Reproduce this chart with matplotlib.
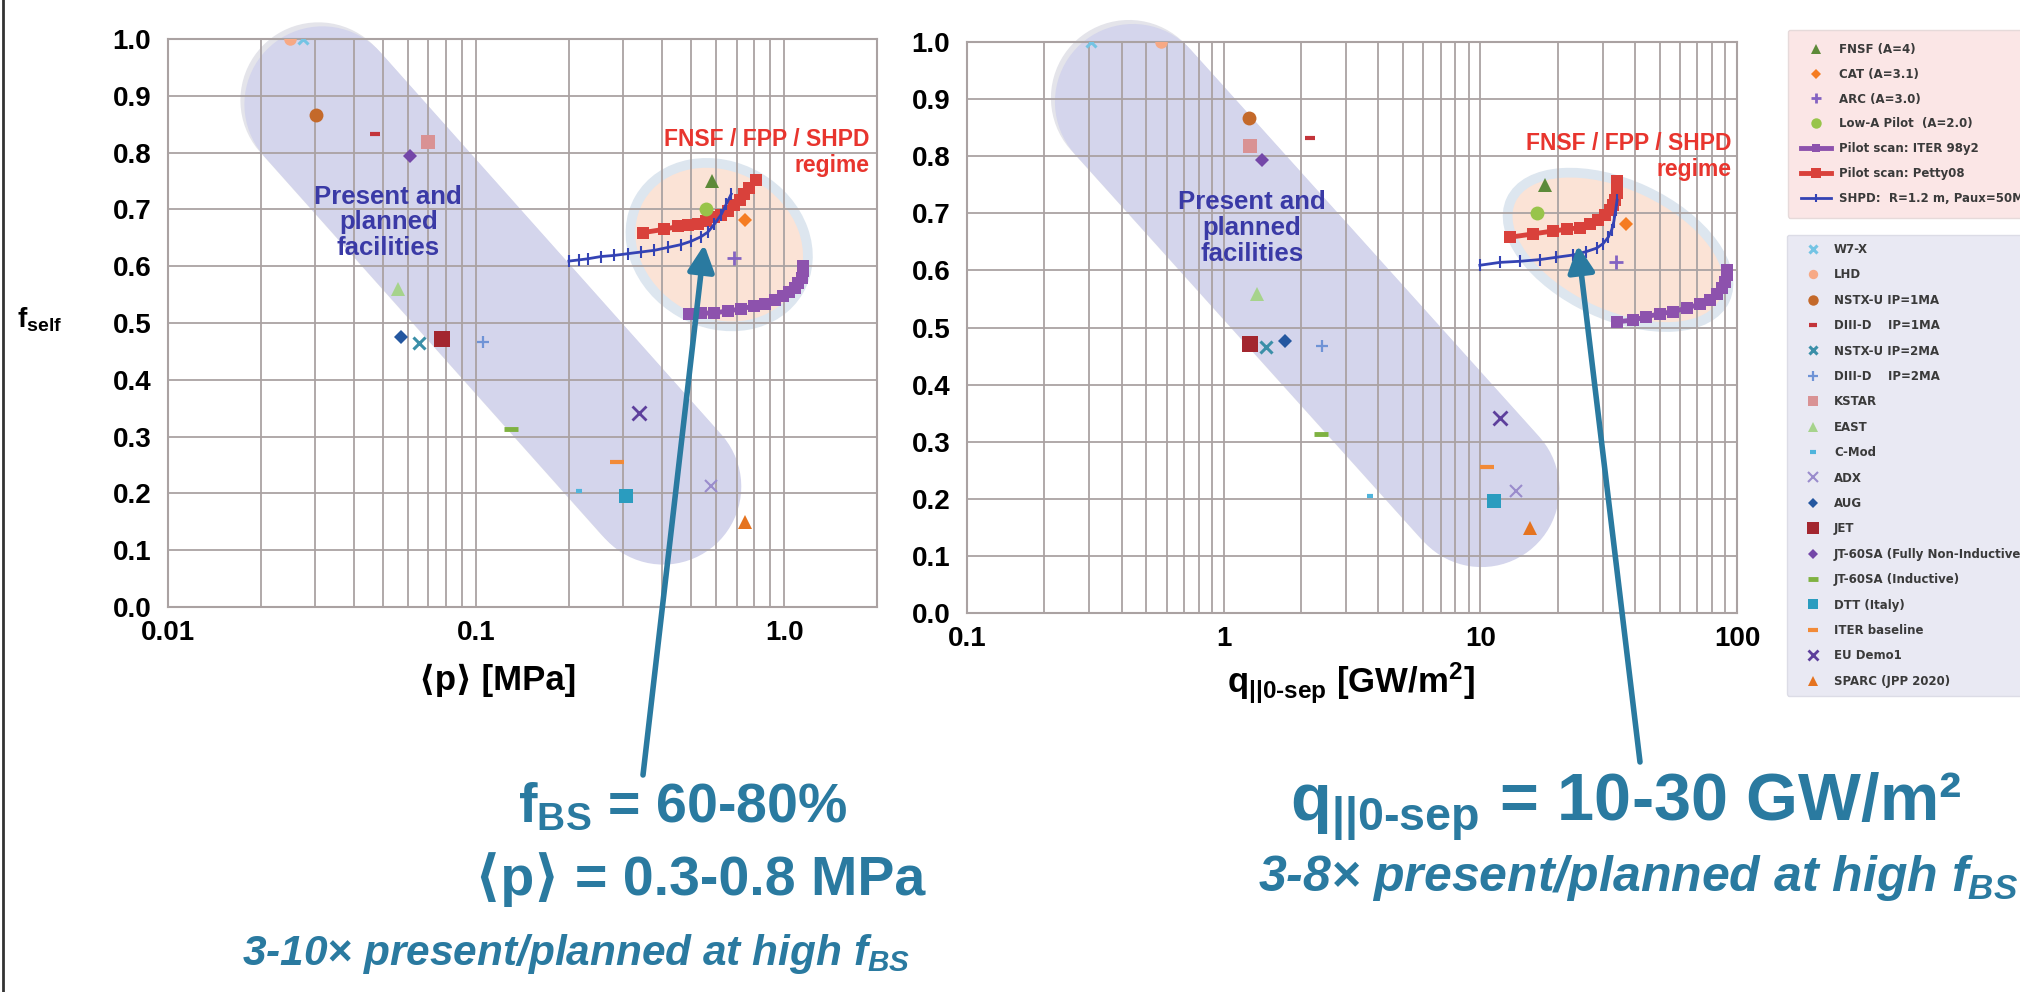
import numpy as np
import matplotlib.pyplot as plt
import matplotlib.transforms as mtransforms
from matplotlib.patches import Ellipse, Polygon
from matplotlib.lines import Line2D

W, H = 2020, 992

plt.rcParams['font.family'] = ['Liberation Sans', 'DejaVu Sans']
plt.rcParams['font.weight'] = 'bold'
plt.rcParams['axes.labelweight'] = 'bold'
plt.rcParams['mathtext.fontset'] = 'custom'
plt.rcParams['mathtext.rm'] = 'Liberation Sans:bold'
plt.rcParams['mathtext.bf'] = 'Liberation Sans:bold'
plt.rcParams['mathtext.it'] = 'Liberation Sans:bold:italic'

# ---- present / planned devices: <p> [MPa], q_||0-sep [GW/m2], f_self
dev_names = ['W7-X', 'LHD', 'NSTX-U IP=1MA', 'DIII-D    IP=1MA', 'NSTX-U IP=2MA',
             'DIII-D    IP=2MA', 'KSTAR', 'EAST', 'C-Mod', 'ADX', 'AUG', 'JET',
             'JT-60SA (Fully Non-Inductive)', 'JT-60SA (Inductive)', 'DTT (Italy)',
             'ITER baseline', 'EU Demo1', 'SPARC (JPP 2020)']
dev_p = [0.0275, 0.0249, 0.0302, 0.0471, 0.0652, 0.105, 0.070, 0.0558, 0.215, 0.578,
         0.0571, 0.0776, 0.061, 0.130, 0.307, 0.286, 0.339, 0.744]
dev_q = [0.303, 0.570, 1.26, 2.16, 1.46, 2.41, 1.27, 1.35, 3.70, 13.8,
         1.73, 1.27, 1.41, 2.39, 11.3, 10.6, 11.9, 15.6]
dev_f = [1.0, 1.0, 0.867, 0.832, 0.465, 0.467, 0.818, 0.559, 0.205, 0.213,
         0.476, 0.471, 0.794, 0.314, 0.196, 0.255, 0.341, 0.149]

# ---- pilot plant designs
pilot_names = ['FNSF (A=4)', 'CAT (A=3.1)', 'ARC (A=3.0)', 'Low-A Pilot  (A=2.0)']
pilot_p = [0.583, 0.748, 0.689, 0.557]
pilot_q = [17.9, 36.8, 33.7, 16.6]
pilot_f = [0.750, 0.681, 0.614, 0.700]

# ---- pilot scans (left panel: vs <p>)
iter98_p = [0.492, 0.537, 0.593, 0.656, 0.725, 0.800, 0.863, 0.930, 0.991, 1.04,
            1.08, 1.11, 1.14, 1.15, 1.15]
iter98_fp = [0.515, 0.517, 0.518, 0.521, 0.525, 0.530, 0.534, 0.540, 0.547, 0.554,
             0.562, 0.571, 0.580, 0.591, 0.600]
petty_p = [0.347, 0.408, 0.451, 0.486, 0.524, 0.558, 0.593, 0.624, 0.656, 0.689,
           0.716, 0.743, 0.771, 0.811]
petty_fp = [0.659, 0.665, 0.670, 0.672, 0.675, 0.680, 0.686, 0.691, 0.698, 0.707,
            0.717, 0.727, 0.738, 0.752]
shpd_p = [0.200, 0.215, 0.230, 0.254, 0.281, 0.310, 0.343, 0.379, 0.419, 0.462,
          0.499, 0.537, 0.565, 0.593, 0.624, 0.648, 0.673]
shpd_fp = [0.609, 0.611, 0.613, 0.617, 0.619, 0.622, 0.625, 0.628, 0.633, 0.638,
           0.644, 0.652, 0.660, 0.674, 0.691, 0.709, 0.727]

# ---- pilot scans (right panel: vs q_||0-sep)
iter98_q = [34.0, 39.4, 44.4, 50.1, 56.5, 63.7, 71.7, 78.4, 83.3, 87.1, 89.8, 91.1, 91.6]
iter98_fq = [0.510, 0.513, 0.519, 0.524, 0.528, 0.534, 0.541, 0.549, 0.559, 0.569,
             0.580, 0.592, 0.601]
petty_q = [13.0, 16.1, 19.2, 21.7, 24.4, 26.7, 28.8, 30.6, 32.0, 32.9, 33.4, 34.0, 34.0, 34.0]
petty_fq = [0.658, 0.664, 0.669, 0.672, 0.675, 0.681, 0.688, 0.697, 0.706, 0.715,
            0.723, 0.735, 0.747, 0.757]
shpd_q = [9.96, 11.9, 14.3, 17.1, 19.8, 23.0, 25.9, 28.4, 30.1, 31.5, 32.5, 33.1, 33.7, 34.1]
shpd_fq = [0.609, 0.614, 0.616, 0.619, 0.623, 0.627, 0.633, 0.639, 0.647, 0.658,
           0.671, 0.685, 0.706, 0.723]

scan_names = ['Pilot scan: ITER 98y2', 'Pilot scan: Petty08', 'SHPD:  R=1.2 m, Paux=50MW']

# ---- styles
dev_styles = [
    dict(marker='x', color='#74c4e4', ms=7, mew=2.2),
    dict(marker='o', color='#f7a985', ms=9, mew=0),
    dict(marker='o', color='#c4692a', ms=10, mew=0),
    dict(marker='_', color='#c3343a', ms=7, mew=3),
    dict(marker='x', color='#3b8fa8', ms=8, mew=2.2),
    dict(marker='+', color='#6f93d6', ms=9, mew=1.6),
    dict(marker='s', color='#d99294', ms=10, mew=0),
    dict(marker='^', color='#a6d38c', ms=10, mew=0),
    dict(marker='_', color='#4fb4dc', ms=5, mew=3),
    dict(marker='x', color='#9a8ccc', ms=9, mew=1.5),
    dict(marker='D', color='#2457a0', ms=7, mew=0),
    dict(marker='s', color='#a3262f', ms=11, mew=0),
    dict(marker='D', color='#7447a8', ms=7, mew=0),
    dict(marker='_', color='#7fb241', ms=10, mew=3.5),
    dict(marker='s', color='#2a9cbf', ms=10, mew=0),
    dict(marker='_', color='#f28a37', ms=10, mew=3),
    dict(marker='x', color='#5d3f9c', ms=10, mew=2),
    dict(marker='^', color='#e5731f', ms=10, mew=0),
]
pilot_styles = [
    dict(marker='^', color='#5d8a39', ms=10, mew=0),
    dict(marker='D', color='#f57c22', ms=7, mew=0),
    dict(marker='+', color='#8462c2', ms=10, mew=2),
    dict(marker='o', color='#98c44a', ms=10, mew=0),
]
scan_styles = [
    dict(color='#8d52ad', lw=3.5, marker='s', ms=8, mew=0),
    dict(color='#d9413b', lw=3.5, marker='s', ms=9, mew=0),
    dict(color='#3443b4', lw=2, marker='|', ms=8, mew=1.5),
]

grid_c = '#aaa2a2'
teal = '#2a7aa0'
band_c = '#d4d5ec'
peach_c = '#fbe3d6'

fig = plt.figure(figsize=(W / 100, H / 100), dpi=100)
axL = fig.add_axes([168 / W, 1 - 607 / H, (877 - 168) / W, (607 - 39) / H])
axR = fig.add_axes([967 / W, 1 - 613 / H, (1737 - 967) / W, (613 - 42) / H])

for ax in (axL, axR):
    ax.set_xscale('log')
    ax.set_ylim(0, 1.0)
    ax.set_yticks(np.arange(0, 1.01, 0.1))
    ax.set_yticklabels([f'{v:.1f}' for v in np.arange(0, 1.01, 0.1)])
    ax.grid(True, which='both', axis='x', color=grid_c, lw=1.3)
    ax.grid(True, which='major', axis='y', color=grid_c, lw=1.3)
    ax.set_axisbelow(True)
    ax.tick_params(which='both', length=0, labelsize=20, pad=9)
    ax.tick_params(axis='y', pad=12)
    for s in ax.spines.values():
        s.set_color(grid_c)
        s.set_linewidth(1.5)

axL.set_xlim(0.01, 2.0)
axL.set_xticks([0.01, 0.1, 1.0])
axL.set_xticklabels(['0.01', '0.1', '1.0'])
axR.set_xlim(0.1, 100)
axR.set_xticks([0.1, 1, 10, 100])
axR.set_xticklabels(['0.1', '1', '10', '100'])
for ax in (axL, axR):
    ax.xaxis.set_minor_formatter(plt.NullFormatter())

IDT = mtransforms.IdentityTransform()


def capsule(ax, a, b, r, n=40):
    p1 = ax.transData.transform(a)
    p2 = ax.transData.transform(b)
    d = p2 - p1
    phi = np.arctan2(d[1], d[0])
    t2 = np.linspace(phi + np.pi / 2, phi - np.pi / 2, n)
    t1 = np.linspace(phi - np.pi / 2, phi - 3 * np.pi / 2, n)
    pts = np.vstack([np.c_[p2[0] + r * np.cos(t2), p2[1] + r * np.sin(t2)],
                     np.c_[p1[0] + r * np.cos(t1), p1[1] + r * np.sin(t1)]])
    return pts


def add_band(ax, a, b, r):
    pts = capsule(ax, a, b, r)
    ax.add_patch(Polygon(pts + np.array([-4, 4]), closed=True, transform=IDT,
                         facecolor='#e4e4ea', edgecolor='none', zorder=0.1, clip_on=False))
    ax.add_patch(Polygon(pts, closed=True, transform=IDT, facecolor=band_c,
                         edgecolor='none', zorder=0.2, clip_on=False))


def add_blob(ax, c, a, b, ang):
    pc = ax.transData.transform(c)
    ax.add_patch(Ellipse(pc, 2 * a, 2 * b, angle=ang, transform=IDT,
                         facecolor=peach_c, edgecolor='#dde6ef', lw=7, zorder=0.3,
                         clip_on=False))


add_band(axL, (0.0317, 0.885), (0.405, 0.212), 78)
add_band(axR, (0.443, 0.895), (10.1, 0.217), 78)
add_blob(axL, (0.615, 0.638), 92, 78, -30)
add_blob(axR, (34.4, 0.636), 118, 65, -25)

handles_dev = []
handles_pilot = []
handles_scan = []
for ax, xs_dev, xs_pilot, scans in (
        (axL, dev_p, pilot_p, [(iter98_p, iter98_fp), (petty_p, petty_fp), (shpd_p, shpd_fp)]),
        (axR, dev_q, pilot_q, [(iter98_q, iter98_fq), (petty_q, petty_fq), (shpd_q, shpd_fq)])):
    hs = []
    for (x, y), st in zip(scans, scan_styles):
        h, = ax.plot(x, y, color=st['color'], lw=st['lw'], marker=st['marker'],
                     ms=st['ms'], mew=st['mew'], zorder=3)
        hs.append(h)
    hd = []
    for x, y, st in zip(xs_dev, dev_f, dev_styles):
        h, = ax.plot([x], [y], ls='none', marker=st['marker'], color=st['color'],
                     ms=st['ms'], mew=st['mew'], zorder=4)
        hd.append(h)
    hp = []
    for x, y, st in zip(xs_pilot, pilot_f, pilot_styles):
        h, = ax.plot([x], [y], ls='none', marker=st['marker'], color=st['color'],
                     ms=st['ms'], mew=st['mew'], zorder=4)
        hp.append(h)
    if ax is axL:
        handles_dev, handles_pilot, handles_scan = hd, hp, hs

# region labels
axL.text(0.0519, 0.677, 'Present and\nplanned\nfacilities', ha='center', va='center',
         fontsize=18.5, color='#3a3aa6', linespacing=1.1, zorder=5)
axR.text(1.29, 0.674, 'Present and\nplanned\nfacilities', ha='center', va='center',
         fontsize=18.5, color='#3a3aa6', linespacing=1.1, zorder=5)
axL.text(1.89, 0.80, 'FNSF / FPP / SHPD\nregime', ha='right', va='center',
         fontsize=16.5, color='#e8352e', linespacing=1.15, zorder=5)
axR.text(95.5, 0.80, 'FNSF / FPP / SHPD\nregime', ha='right', va='center',
         fontsize=16.5, color='#e8352e', linespacing=1.15, zorder=5)

# axis labels
axL.set_xlabel('⟨p⟩ [MPa]', fontsize=25, fontweight='bold')
axL.xaxis.set_label_coords(0.465, -0.1)
axR.set_xlabel(r'$\mathrm{q_{||0\text{-}sep}}$ [GW/m$^\mathrm{2}$]', fontsize=25,
               fontweight='bold')
axR.xaxis.set_label_coords(0.499, -0.083)
fig.text(40 / W, 1 - 320 / H, r'$\mathrm{f_{self}}$', fontsize=20, ha='center', va='center')

# arrows
axL.annotate('', xy=(0.55, 0.638), xycoords='data', xytext=(643 / W, 1 - 775 / H),
             textcoords='figure fraction', annotation_clip=False,
             arrowprops=dict(arrowstyle='-|>,head_length=0.8,head_width=0.4',
                             color=teal, lw=4, mutation_scale=20, shrinkA=0, shrinkB=0),
             zorder=6)
axR.annotate('', xy=(24.0, 0.644), xycoords='data', xytext=(1640 / W, 1 - 762 / H),
             textcoords='figure fraction', annotation_clip=False,
             arrowprops=dict(arrowstyle='-|>,head_length=0.8,head_width=0.4',
                             color=teal, lw=4, mutation_scale=20, shrinkA=0, shrinkB=0),
             zorder=6)

# bottom statements
fig.text(683 / W, 1 - 808 / H, r'$\mathrm{f_{BS}}$ = 60-80%', ha='center', va='center',
         fontsize=40, color=teal)
fig.text(700 / W, 1 - 880 / H, '⟨p⟩ = 0.3-0.8 MPa', ha='center', va='center',
         fontsize=40, color=teal)
fig.text(576 / W, 1 - 954 / H, r'3-10× present/planned at high $f_{BS}$', ha='center',
         va='center', fontsize=30.5, style='italic', color=teal)
fig.text(1626 / W, 1 - 806 / H, r'$\mathrm{q_{||0\text{-}sep}}$ = 10-30 GW/m²', ha='center',
         va='center', fontsize=48, color=teal)
fig.text(1638 / W, 1 - 878 / H, r'3-8× present/planned at high $f_{BS}$', ha='center',
         va='center', fontsize=36, style='italic', color=teal)

# legends
leg1 = fig.legend(handles_pilot + handles_scan, pilot_names + scan_names,
                  loc='upper left', bbox_to_anchor=(1788 / W, 1 - 30 / H),
                  borderaxespad=0, numpoints=1, markerscale=0.75,
                  handlelength=2.5, handletextpad=0.7, borderpad=1.1, labelspacing=1.0,
                  fancybox=True, framealpha=1,
                  prop={'family': 'DejaVu Sans', 'size': 8.5, 'weight': 'bold'})
leg1.get_frame().set_facecolor('#fbe6e6')
leg1.get_frame().set_edgecolor('#e6dada')
for t in leg1.get_texts():
    t.set_color('#3a3a3a')

leg2 = fig.legend(handles_dev, dev_names,
                  loc='upper left', bbox_to_anchor=(1787 / W, 1 - 235 / H),
                  borderaxespad=0, numpoints=1, markerscale=0.75,
                  handlelength=3.0, handletextpad=0.3, borderpad=0.68, labelspacing=1.05,
                  fancybox=True, framealpha=1,
                  prop={'family': 'DejaVu Sans', 'size': 8.5, 'weight': 'bold'})
leg2.get_frame().set_facecolor('#e9e9f3')
leg2.get_frame().set_edgecolor('#dcdce6')
for t in leg2.get_texts():
    t.set_color('#3a3a3a')

fig.add_artist(Line2D([0.0015, 0.0015], [0, 1], transform=fig.transFigure,
                      color='#333333', lw=2))

fig.savefig('out.png', dpi=100)
